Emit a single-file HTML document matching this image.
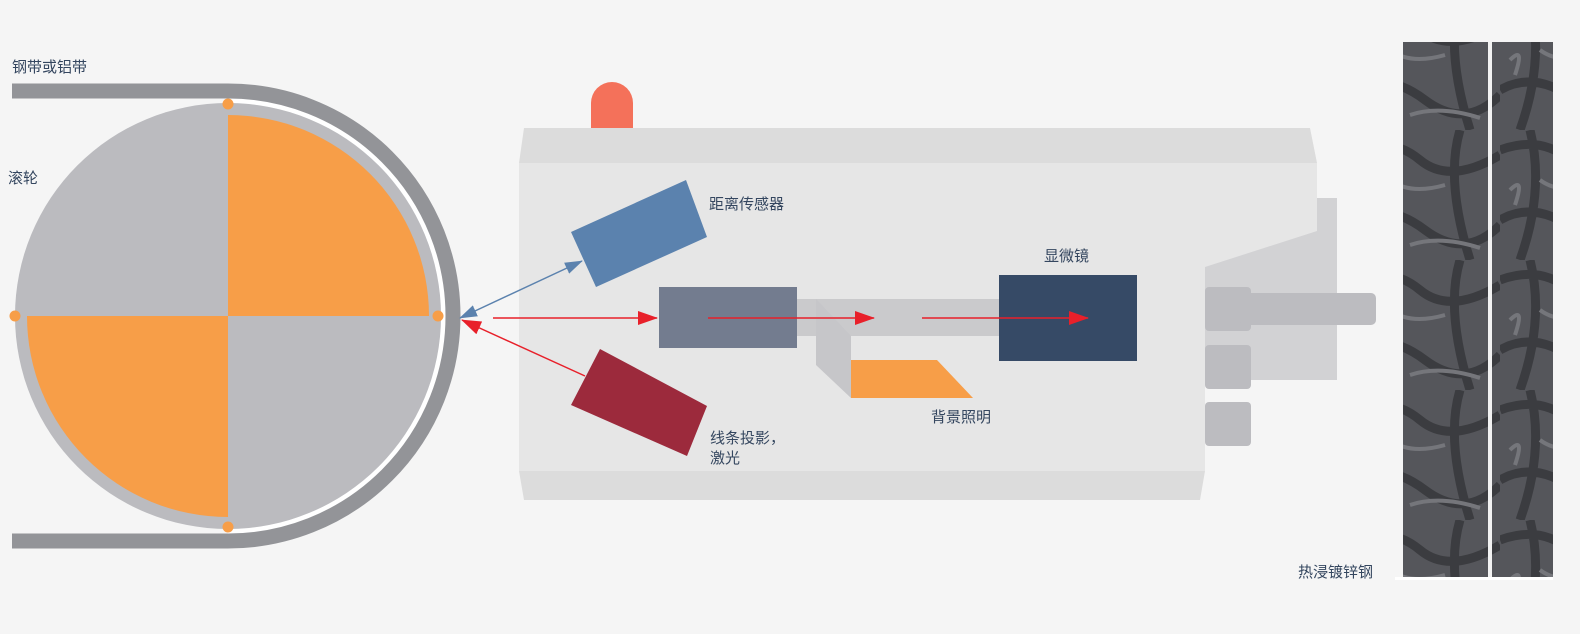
<!DOCTYPE html>
<html><head><meta charset="utf-8"><style>
html,body{margin:0;padding:0;background:#f5f5f5;}
svg{display:block}
text{font-family:"Liberation Sans","Noto Sans CJK SC",sans-serif;font-size:15px;fill:#34465f;}
</style></head><body>
<svg width="1580" height="634" viewBox="0 0 1580 634" xmlns="http://www.w3.org/2000/svg">
<defs>
<marker id="arB" markerWidth="20" markerHeight="14" refX="19" refY="7" orient="auto" markerUnits="userSpaceOnUse"><path d="M0,0 L20,7 L0,14 z" fill="#e8202a"/></marker>
<marker id="ab" markerWidth="18" markerHeight="12" refX="17" refY="6" orient="auto-start-reverse" markerUnits="userSpaceOnUse"><path d="M0,0 L18,6 L0,12 z" fill="#5b82ae"/></marker>
<pattern id="tex" width="150" height="130" patternUnits="userSpaceOnUse">
<rect width="150" height="130" fill="#55565b"/>
<path d="M0,20 Q40,5 70,30 T150,25 M0,90 Q35,70 75,100 T150,95 M30,0 Q45,60 20,130 M110,0 Q95,50 120,130" stroke="#36373b" stroke-width="9" fill="none" opacity="0.85"/>
<path d="M40,50 Q60,65 95,55 M60,115 Q90,105 130,118 M10,60 Q25,45 15,75" stroke="#75767b" stroke-width="4" fill="none"/>
</pattern>
</defs>

<!-- roller -->
<path d="M228,100 A216,216 0 0 1 228,532" fill="none" stroke="#ffffff" stroke-width="6"/>
<circle cx="228" cy="316" r="213" fill="#bbbbbf"/>
<path d="M228,316 L228,115 A201,201 0 0 1 429,316 Z" fill="#f79e48"/>
<path d="M228,316 L228,517 A201,201 0 0 1 27,316 Z" fill="#f79e48"/>
<!-- belt -->
<path d="M12,91 L228,91 A225,225 0 0 1 228,541 L12,541" fill="none" stroke="#939498" stroke-width="15"/>
<g fill="#f79e48"><circle cx="228" cy="104" r="5.5"/><circle cx="15" cy="316" r="5.5"/><circle cx="438" cy="316" r="5.5"/><circle cx="228" cy="527" r="5.5"/></g>
<text x="12" y="72">钢带或铝带</text>
<text x="8" y="183">滚轮</text>

<!-- side panel -->
<rect x="1205" y="198" width="132" height="182" fill="#d2d2d4"/>
<!-- cap -->
<path d="M591,128 L591,103 A21,21 0 0 1 633,103 L633,128 Z" fill="#f4715a"/>
<!-- body -->
<path d="M524,128 L1310,128 L1317,163 L519,163 Z" fill="#dcdcdc"/>
<path d="M519,163 L1317,163 L1317,231 L1205,267 L1205,471 L519,471 Z" fill="#e6e6e6"/>
<path d="M519,471 L1205,471 L1200,500 L524,500 Z" fill="#dcdcdc"/>
<!-- connectors -->
<g fill="#bcbcc0">
<rect x="1205" y="287" width="46" height="44" rx="4"/>
<rect x="1205" y="345" width="46" height="44" rx="4"/>
<rect x="1205" y="402" width="46" height="44" rx="4"/>
<rect x="1240" y="293" width="136" height="32" rx="5"/>
</g>

<!-- beam band -->
<rect x="797" y="299" width="202" height="37" fill="#cacacc"/>
<path d="M816,299 L851,336 L851,398 L816,365 Z" fill="#c6c6c9"/>
<path d="M851,360 L937,360 L973,398 L851,398 Z" fill="#f79e48"/>
<rect x="659" y="287" width="138" height="61" fill="#737c8f"/>
<rect x="999" y="275" width="138" height="86" fill="#364a66"/>

<!-- sensors -->
<path d="M571,232 L686,180 L707,237 L596,287 Z" fill="#5b82ae"/>
<path d="M571,405 L600,349 L707,406 L687,456 Z" fill="#9c2a3c"/>

<!-- arrows -->
<line x1="493" y1="318" x2="657" y2="318" stroke="#e8202a" stroke-width="1.5" marker-end="url(#arB)"/>
<line x1="708" y1="318" x2="874" y2="318" stroke="#e8202a" stroke-width="1.5" marker-end="url(#arB)"/>
<line x1="922" y1="318" x2="1088" y2="318" stroke="#e8202a" stroke-width="1.5" marker-end="url(#arB)"/>
<line x1="460" y1="318" x2="582" y2="261" stroke="#5b82ae" stroke-width="1.5" marker-start="url(#ab)" marker-end="url(#ab)"/>
<line x1="585" y1="376" x2="462" y2="320" stroke="#e8202a" stroke-width="1.5" marker-end="url(#arB)"/>

<text x="709" y="209">距离传感器</text>
<text x="1044" y="261">显微镜</text>
<text x="931" y="422">背景照明</text>
<text x="710" y="443">线条投影，</text>
<text x="710" y="463">激光</text>
<text x="1298" y="577">热浸镀锌钢</text>

<!-- steel -->
<rect x="1403" y="42" width="150" height="535" fill="url(#tex)"/>
<rect x="1488" y="42" width="4" height="535" fill="#f2f2f2"/>
<rect x="1395" y="577" width="158" height="3" fill="#ffffff"/>
</svg>
</body></html>
